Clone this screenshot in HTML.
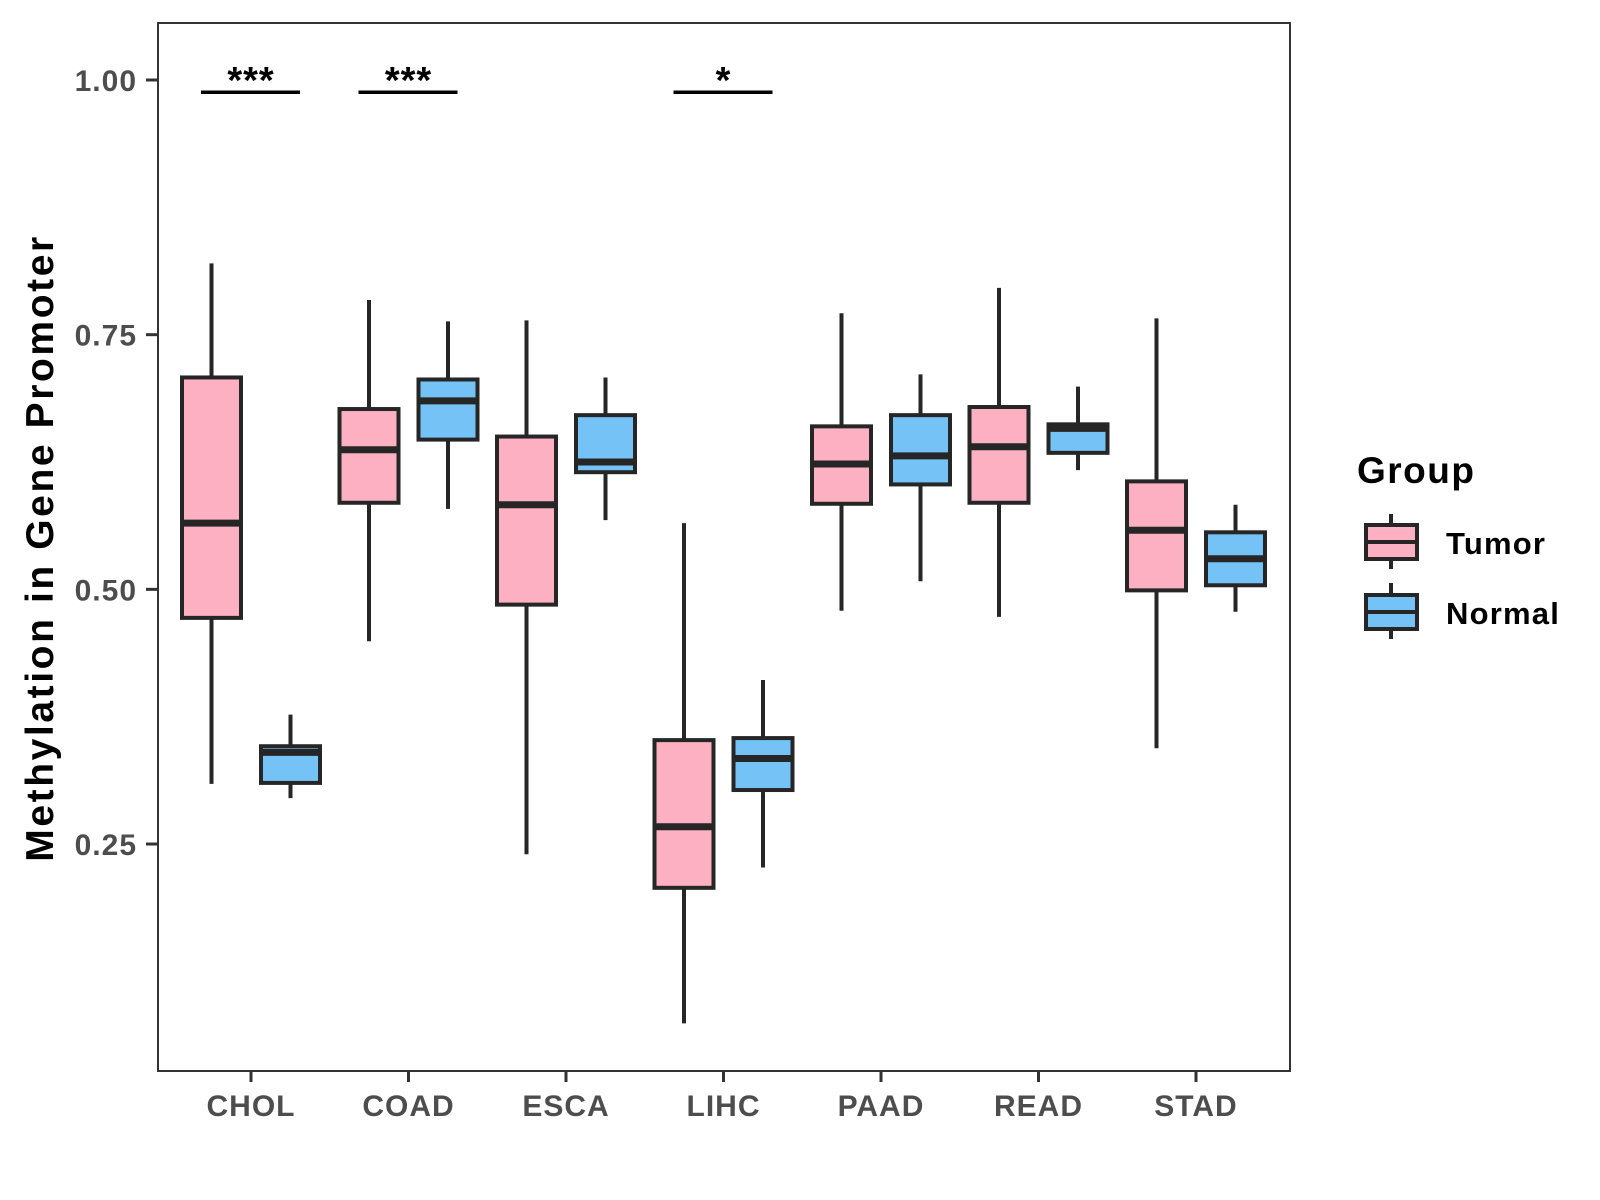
<!DOCTYPE html>
<html><head><meta charset="utf-8"><style>
body{margin:0;background:#fff}
svg{display:block;font-family:"Liberation Sans",Arial,sans-serif}
</style></head><body>
<svg id="chart" width="1600" height="1200" viewBox="0 0 1600 1200" xmlns="http://www.w3.org/2000/svg">
<rect width="1600" height="1200" fill="#fff"/>
<g id="marks"></g>
<rect x="158" y="23" width="1132" height="1048" fill="none" stroke="#333" stroke-width="2"/>
<g id="axes"></g>
<text transform="translate(53,548) rotate(-90)" text-anchor="middle" font-size="39" font-weight="bold" letter-spacing="2.6" fill="#000">Methylation in Gene Promoter</text>
<g>
<text x="1357" y="483" font-size="37" font-weight="bold" letter-spacing="1.5">Group</text>
<g>
<line x1="1391" y1="514" x2="1391" y2="569" stroke="#262626" stroke-width="4"/>
<rect x="1366" y="525" width="51" height="34" fill="#FCB0C1" stroke="#262626" stroke-width="4"/>
<line x1="1366" y1="542" x2="1417" y2="542" stroke="#262626" stroke-width="4"/>
<text x="1446" y="554" font-size="31" font-weight="bold" letter-spacing="1.2">Tumor</text>
</g>
<g>
<line x1="1391" y1="583" x2="1391" y2="639" stroke="#262626" stroke-width="4"/>
<rect x="1366" y="595" width="51" height="34" fill="#75C2F6" stroke="#262626" stroke-width="4"/>
<line x1="1366" y1="612" x2="1417" y2="612" stroke="#262626" stroke-width="4"/>
<text x="1446" y="624" font-size="31" font-weight="bold" letter-spacing="1.2">Normal</text>
</g>
</g>
</svg>
<script>
const categories=["CHOL","COAD","ESCA","LIHC","PAAD","READ","STAD"];
// [low whisker, Q1, median, Q3, high whisker]
const tumorStats=[[0.309,0.472,0.565,0.708,0.820],[0.449,0.585,0.637,0.677,0.784],[0.240,0.485,0.583,0.650,0.764],[0.074,0.207,0.267,0.352,0.565],[0.479,0.584,0.623,0.660,0.771],[0.473,0.585,0.640,0.679,0.796],[0.344,0.499,0.558,0.606,0.766]];
const normalStats=[[0.295,0.310,0.340,0.346,0.377],[0.579,0.647,0.685,0.706,0.763],[0.568,0.615,0.625,0.671,0.708],[0.227,0.303,0.334,0.354,0.411],[0.508,0.603,0.631,0.671,0.711],[0.617,0.634,0.658,0.662,0.699],[0.478,0.504,0.530,0.556,0.583]];
const yTicks=[0.25,0.50,0.75,1.00];
const yTickLabels=["0.25","0.50","0.75","1.00"];
const sigCategories=["CHOL","COAD","LIHC"];
const sigLabels=["***","***","*"];
const sigLevel=[0.988];

const NS="http://www.w3.org/2000/svg";
function yScale(v){return 80+(1-v)*1018.7;}
function xScale(i){return 251+i*157.5;}
function mk(tag,attrs,parent){const e=document.createElementNS(NS,tag);for(const k in attrs)e.setAttribute(k,attrs[k]);parent.appendChild(e);return e;}
const marks=document.getElementById('marks');
const axes=document.getElementById('axes');
function drawBox(i,s,off,fill,name){
  const cx=xScale(i)+off,w=59;
  const g=mk('g',{},marks);
  
  
  mk('line',{x1:cx,x2:cx,y1:yScale(s[4]),y2:yScale(s[0]),stroke:'#262626','stroke-width':4},g);
  mk('rect',{x:cx-w/2,y:yScale(s[3]),width:w,height:yScale(s[1])-yScale(s[3]),fill:fill,stroke:'#262626','stroke-width':4},g);
  mk('line',{x1:cx-w/2,x2:cx+w/2,y1:yScale(s[2]),y2:yScale(s[2]),stroke:'#262626','stroke-width':7},g);
}
categories.forEach((c,i)=>{
  drawBox(i,tumorStats[i],-39.5,'#FCB0C1','box-tumor-'+c.toLowerCase());
  drawBox(i,normalStats[i],39.5,'#75C2F6','box-normal-'+c.toLowerCase());
  const t=mk('line',{x1:xScale(i),x2:xScale(i),y1:1071,y2:1082,stroke:'#333','stroke-width':3},axes);
  
  
  const l=mk('text',{x:xScale(i),y:1116,'text-anchor':'middle','font-size':30,'font-weight':'bold','letter-spacing':1,fill:'#4d4d4d'},axes);
  l.textContent=c;
  
  
});
yTicks.forEach((v,i)=>{
  const t=mk('line',{x1:146,x2:158,y1:yScale(v),y2:yScale(v),stroke:'#333','stroke-width':3},axes);
  
  
  const l=mk('text',{x:137,y:yScale(v)+11,'text-anchor':'end','font-size':30,'font-weight':'bold','letter-spacing':1,fill:'#4d4d4d'},axes);
  l.textContent=yTickLabels[i];
  
  
});
sigCategories.forEach((c,k)=>{
  const i=categories.indexOf(c);
  const y=yScale(sigLevel[0]);
  const ln=mk('line',{x1:xScale(i)-50,x2:xScale(i)+49,y1:y,y2:y,stroke:'#000','stroke-width':3.5},marks);
  
  
  const t=mk('text',{x:xScale(i),y:y+1,'text-anchor':'middle','font-size':38,'font-weight':'bold','letter-spacing':1,fill:'#000'},marks);
  t.textContent=sigLabels[k];
  
  
});
</script>
</body></html>
